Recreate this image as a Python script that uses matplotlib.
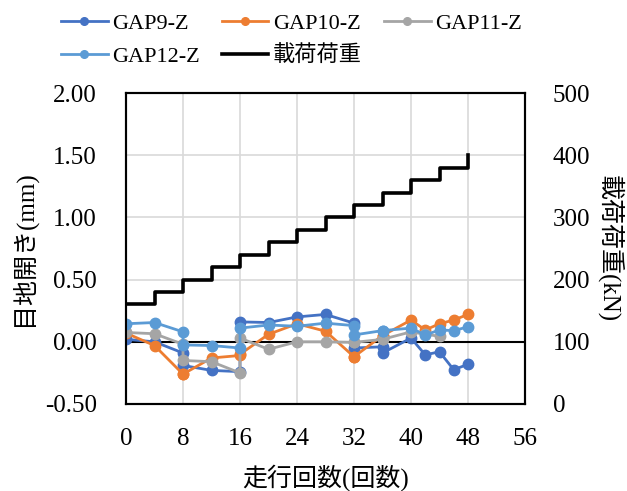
import matplotlib
matplotlib.use("Agg")
import matplotlib.pyplot as plt
import numpy as np

plt.rcParams['font.family'] = ['Liberation Serif', 'Noto Sans CJK JP']
plt.rcParams['font.size'] = 18

# 走行回数 (some cycles measured twice: before / after load step)
cycles = [0, 4, 8, 8, 12, 16, 16, 20, 24, 28, 32, 32, 36, 36, 40, 42, 44, 46, 48]

gap9 = [0.02, 0.00, -0.09, -0.19, -0.23, -0.24, 0.16, 0.155, 0.20, 0.22,
        0.15, -0.05, -0.04, -0.09, 0.03, -0.105, -0.08, -0.225, -0.18]
gap10 = [0.07, -0.03, -0.26, -0.26, -0.13, -0.11, -0.10, 0.06, 0.145, 0.085,
         -0.12, -0.12, 0.05, 0.05, 0.175, 0.095, 0.145, 0.175, 0.22]
gap11 = [0.075, 0.065, -0.02, -0.15, -0.16, -0.25, 0.03, -0.06, 0.0, 0.0,
         -0.005, -0.005, 0.02, 0.02, 0.08, 0.06, 0.045, np.nan, np.nan]
gap12 = [0.145, 0.155, 0.08, -0.025, -0.03, -0.05, 0.11, 0.135, 0.125, 0.15,
         0.13, 0.055, 0.09, 0.09, 0.11, 0.055, 0.095, 0.09, 0.12]

# 載荷荷重 (kN), steps every 4 cycles
load_cycles = [0, 4, 8, 12, 16, 20, 24, 28, 32, 36, 40, 44, 48]
load_kn = [160, 180, 200, 220, 240, 260, 280, 300, 320, 340, 360, 380, 400]

series = [
    ("GAP9-Z", gap9, "#4472C4"),
    ("GAP10-Z", gap10, "#ED7D31"),
    ("GAP11-Z", gap11, "#A5A5A5"),
    ("GAP12-Z", gap12, "#5B9BD5"),
]

fig = plt.figure(figsize=(6.27, 4.91), dpi=100)
ax = fig.add_axes([126 / 627, 1 - 404 / 491, (525 - 126) / 627, (404 - 93) / 491])

handles = []
for name, vals, col in series:
    h, = ax.plot(cycles, vals, color=col, lw=2.0, marker="o", ms=7.5,
                 label=name, zorder=3)
    handles.append(h)

ax.axhline(0, color="black", lw=1.5, zorder=2)
ax.set_xlim(0, 56)
ax.set_ylim(-0.5, 2.0)
ax.set_xticks(np.arange(0, 57, 8))
yt = np.arange(-0.5, 2.01, 0.5)
ax.set_yticks(yt)
ax.set_yticklabels([f"{v:.2f}" for v in yt])
ax.grid(True, color="#D9D9D9", lw=1.2)
ax.set_axisbelow(True)
ax.tick_params(axis="both", length=0, labelsize=18)
ax.tick_params(axis="x", pad=17)
ax.tick_params(axis="y", pad=21)
ax.set_xlabel("走行回数(回数)", fontsize=18)
ax.set_ylabel("目地開き(mm)", fontsize=18)
ax.xaxis.set_label_coords(0.5, -0.195)
ax.yaxis.set_label_coords(-0.226, 0.5)

ax2 = ax.twinx()
hl, = ax2.plot(load_cycles, load_kn, color="black", lw=2.6,
               drawstyle="steps-post", label="載荷荷重", zorder=4)
ax2.set_ylim(0, 500)
ax2.set_yticks(np.arange(0, 501, 100))
ax2.tick_params(axis="y", length=0, labelsize=18, pad=20)
ax2.set_ylabel("載荷荷重(kN)", fontsize=18, rotation=-90, labelpad=24)

for a in (ax, ax2):
    for s in a.spines.values():
        s.set_color("black")
        s.set_linewidth(1.5)

# row-major order for the 3-column legend
order = [handles[0], handles[3], handles[1], hl, handles[2]]
leg = fig.legend(order, [h.get_label() for h in order], ncol=3, frameon=False,
                 loc="upper left", bbox_to_anchor=(0.09, 1 - 9 / 491),
                 borderaxespad=0, borderpad=0.2, handlelength=2.1,
                 columnspacing=1.0, handletextpad=0.2, labelspacing=0.55,
                 fontsize=16)
for h in leg.legend_handles:
    h.set_markersize(5.5)

fig.savefig("out.png", dpi=100)
